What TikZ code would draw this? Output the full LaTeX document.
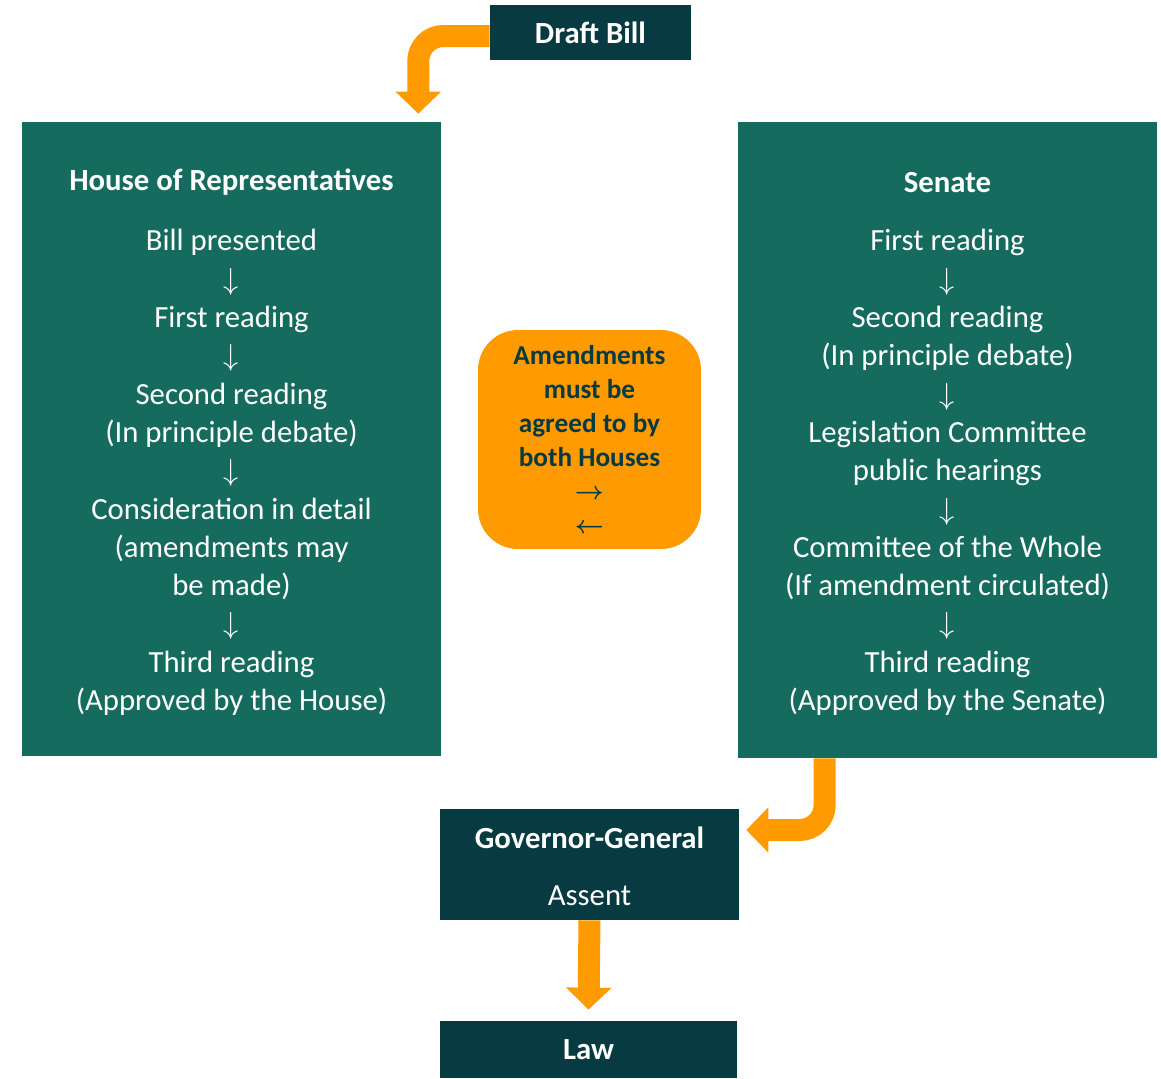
\documentclass[tikz,border=0pt]{standalone}
\usepackage{fontspec}
\usepackage{amsmath}
\setmainfont{Carlito}
\usetikzlibrary{arrows.meta}
\usetikzlibrary{positioning}
\definecolor{billteal}{HTML}{083A41}
\definecolor{housegreen}{HTML}{156B5E}
\definecolor{amendorange}{HTML}{FF9A00}

\tikzset{
  darkbox/.style={fill=billteal, text=white, inner sep=0pt, font=\bfseries\fontsize{17.5}{21}\selectfont},
  chamber/.style={fill=housegreen, inner sep=0pt, minimum width=8.38cm},
  chambertitle/.style={text=white, inner sep=0pt, font=\bfseries\fontsize{17.5}{21}\selectfont},
  stagetext/.style={text=white, align=center, inner sep=0pt, font=\fontsize{17.5}{21.8}\selectfont},
  amendbox/.style={fill=amendorange, text=billteal, rounded corners=0.8cm, align=center, inner sep=0pt,
    minimum width=4.46cm, minimum height=4.38cm, font=\bfseries\fontsize{15.5}{19.3}\selectfont},
  flowarrow/.style={draw=amendorange, line width=0.44cm, rounded corners=0.5cm,
    -{Triangle[width=0.88cm,length=0.44cm]}},
}

\begin{document}
\begin{tikzpicture}[x=0.02cm, y=-0.02cm]
\useasboundingbox (0,0) rectangle (1161,1079);

% boxes
\node[darkbox, minimum width=4.02cm, minimum height=1.1cm] (draft) at (590.5,32.5) {Draft Bill};
\node[chamber, minimum height=12.68cm] (house) at (231.5,439) {};
\node[chamber, minimum height=12.72cm] (senate) at (947.5,440) {};
\node[amendbox] (amend) at (589.5,439.5) {Amendments\\must be\\agreed to by\\both Houses\\
  $\boldsymbol{\rightarrow}$\\$\boldsymbol{\leftarrow}$};
\node[darkbox, minimum width=5.98cm, minimum height=2.22cm] (gov) at (589.5,864.5) {};
\node[darkbox, minimum width=5.94cm, minimum height=1.14cm, text depth=0.1cm, text height=0.5cm] (law) at (588.5,1049.5) {Law};

% House of Representatives
\node[chambertitle] (housetitle) at ([yshift=-1.2cm]house.north) {House of Representatives};
\node[stagetext, below=0.68cm of housetitle] (housesteps) {Bill presented\\$\downarrow$\\First reading\\$\downarrow$\\
  Second reading\\(In principle debate)\\$\downarrow$\\Consideration in detail\\(amendments may\\be made)\\
  $\downarrow$\\Third reading\\(Approved by the House)};

% Senate
\node[chambertitle] (senatetitle) at ([yshift=-1.22cm]senate.north) {Senate};
\node[stagetext, below=0.72cm of senatetitle] (senatesteps) {First reading\\$\downarrow$\\Second reading\\
  (In principle debate)\\$\downarrow$\\Legislation Committee\\public hearings\\$\downarrow$\\
  Committee of the Whole\\(If amendment circulated)\\$\downarrow$\\Third reading\\(Approved by the Senate)};

% Governor-General
\node[chambertitle] (govtitle) at ([yshift=-0.58cm]gov.north) {Governor-General};
\node[stagetext] (assent) at ([yshift=0.5cm]gov.south) {Assent};

% arrows
\draw[flowarrow] ([yshift=-0.07cm]draft.west) -| ([xshift=-0.46cm, yshift=0.16cm]house.north east);
\draw[flowarrow] ([xshift=1.74cm]senate.south west) |- ([xshift=0.14cm, yshift=0.69cm]gov.east);
\draw[flowarrow] (gov.south) -- ([yshift=0.22cm]law.north);
\end{tikzpicture}
\end{document}
